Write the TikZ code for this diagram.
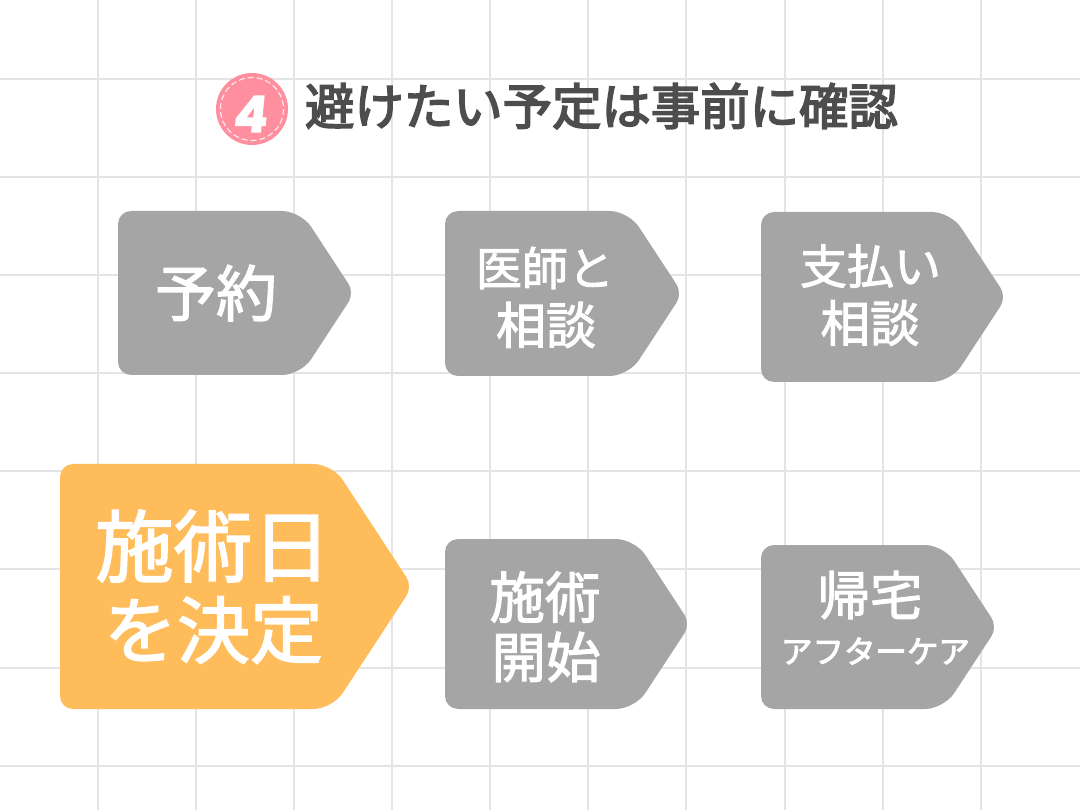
\documentclass[tikz,border=0pt]{standalone}
\usepackage{fontspec}
\setmainfont{Noto Sans CJK JP}[FakeBold=2]
\newfontfamily\titlefont{Noto Sans CJK JP}[FakeBold=3.5]
\newfontfamily\smallfont{Noto Sans CJK JP}[FakeBold=3]
\newfontfamily\numfont{Poppins}[FakeBold=2.5,FakeSlant=0.1]
\definecolor{gridc}{HTML}{E4E4E6}
\definecolor{greyc}{HTML}{A5A5A5}
\definecolor{orangec}{HTML}{FFBC5B}
\definecolor{pinkc}{HTML}{FF8F9F}
\definecolor{titlec}{HTML}{4D4D4D}
\newcommand{\tagshape}[5]{%
  \pgfmathsetmacro{\ym}{(#2+#4)/2}%
  \pgfmathsetmacro{\xv}{#3+3.5}%
  \pgfmathsetmacro{\xs}{\xv-0.655*(#4-#2)/2}%
  \fill[#5] [rounded corners=13pt] (#1,\ym) -- (#1,#2) [rounded corners=19pt] -- (\xs,#2) [rounded corners=11pt] -- (\xv,\ym) [rounded corners=19pt] -- (\xs,#4) [rounded corners=13pt] -- (#1,#4) -- cycle;%
}
\tikzset{
  gridline/.style={draw=gridc,line width=2pt},
  lab/.style={text=white,inner sep=0pt,anchor=center},
}
\newcommand{\fs}[1]{\fontsize{#1pt}{#1pt}\selectfont}
\begin{document}
\begin{tikzpicture}[x=1pt,y=-1pt]
\useasboundingbox (0,0) rectangle (1080,810);
\fill[white] (0,0) rectangle (1080,810);
\foreach \x in {98,196,294,392,490,588,686,785,883,981} \draw[gridline] (\x,0) -- (\x,810);
\foreach \y in {79,177,275,373,471,569,668,766} \draw[gridline] (0,\y) -- (1080,\y);
% badge
\fill[pinkc] (252,109) circle (36);
\draw[white,line width=1.1pt,dash pattern=on 6pt off 3pt,opacity=.85] (252,109) circle (31.5);
\node[lab,font=\numfont\bfseries\fs{50}] (badge) at (249.5,114) {4};
\node[text=titlec,inner sep=0pt,anchor=center,font=\titlefont\fs{49.4}] (title) at (601.5,106) {避けたい予定は事前に確認};
% shapes
\tagshape{118}{211}{351}{375}{greyc}
\tagshape{445}{211}{679}{376}{greyc}
\tagshape{761}{212}{1003}{382}{greyc}
\tagshape{60}{464}{409}{709}{orangec}
\tagshape{445}{539}{687}{709}{greyc}
\tagshape{761}{545}{994}{709}{greyc}
% labels
\node[lab,font=\fs{61}] (a) at (216,293) {予約};
\node[lab,font=\fs{46}] (b1) at (545,268) {医師と};
\node[lab,font=\fs{50}] (b2) at (546,325) {相談};
\node[lab,font=\fs{47}] (c1) at (870.5,266) {支払い};
\node[lab,font=\fs{49.5}] (c2) at (870,323) {相談};
\node[lab,font=\fs{78.5}] (d1) at (213,546) {施術日};
\node[lab,font=\fs{73}] (d2) at (213.5,630) {を決定};
\node[lab,font=\fs{55.5}] (e1) at (545,597) {施術};
\node[lab,font=\fs{54.5}] (e2) at (546,657) {開始};
\node[lab,font=\fs{52.5}] (f1) at (870,595) {帰宅};
\node[lab,font=\smallfont\fs{31.5}] (f2) at (875.5,651) {アフターケア};
\end{tikzpicture}
\end{document}
